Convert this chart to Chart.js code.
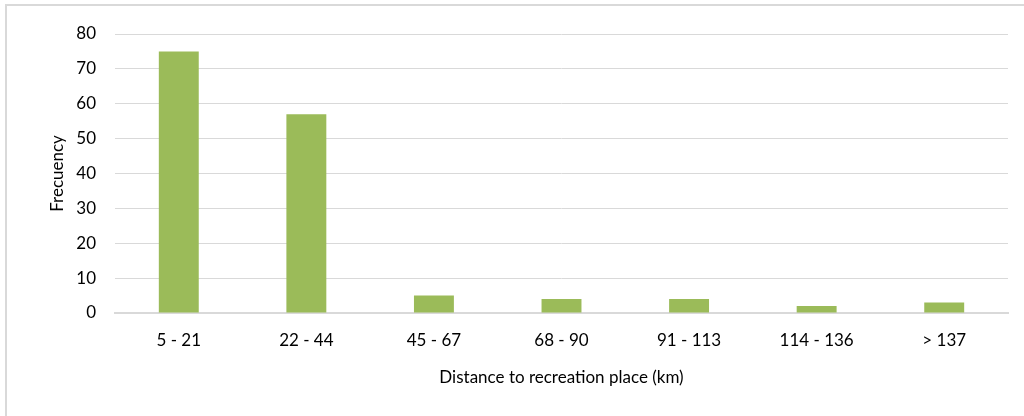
<!DOCTYPE html>
<html>
<head>
<meta charset="utf-8">
<script src="https://cdn.jsdelivr.net/npm/chart.js@4"></script>
<style>
  html, body { margin: 0; padding: 0; background: #fff; overflow: hidden; }
  #frame {
    position: absolute; left: 5px; top: 4px;
    width: 1040px; height: 440px;
    border: 2px solid #d9d9d9; box-sizing: border-box;
  }
  #wrap { position: absolute; left: 0; top: 0; width: 1024px; height: 416px; }
</style>
</head>
<body>
<div id="frame"></div>
<div id="wrap"><canvas id="c" width="1024" height="416"></canvas></div>
<script>
// Distance bands (km) and how many respondents fell in each
const categories = ['5 - 21', '22 - 44', '45 - 67', '68 - 90', '91 - 113', '114 - 136', '> 137'];
const frequency = [75, 57, 5, 4, 4, 2, 3];
const yTicks = [0, 10, 20, 30, 40, 50, 60, 70, 80];

const FONT = 'Lato, "Open Sans", sans-serif';
const TEXT = '#000';
const GRID = '#d9d9d9';

new Chart(document.getElementById('c'), {
  type: 'bar',
  data: {
    labels: categories,
    datasets: [{
      data: frequency,
      backgroundColor: '#9bbb59',
      borderWidth: 0,
      categoryPercentage: 1,
      barPercentage: 0.313
    }]
  },
  options: {
    responsive: false,
    animation: false,
    layout: { padding: { left: 47, right: 16, top: 34, bottom: 28 } },
    plugins: { legend: { display: false }, tooltip: { enabled: false } },
    scales: {
      x: {
        grid: { display: false, drawTicks: false },
        border: { display: true, color: GRID, width: 2 },
        ticks: { color: TEXT, font: { family: FONT, size: 17 }, padding: 17, maxRotation: 0 },
        title: {
          display: true, text: 'Distance to recreation place (km)',
          color: TEXT, font: { family: FONT, size: 17 }, padding: 0
        },
        afterFit(s) { s.height = 75; }
      },
      y: {
        min: 0, max: 80,
        afterBuildTicks(s) { s.ticks = yTicks.map(v => ({ value: v })); },
        grid: { color: GRID, lineWidth: 1, drawTicks: false },
        border: { display: false },
        ticks: { color: TEXT, font: { family: FONT, size: 17 }, padding: 19 },
        title: {
          display: true, text: 'Frecuency',
          color: TEXT, font: { family: FONT, size: 17 }, padding: 0
        },
        afterFit(s) { s.width = 68; }
      }
    }
  }
});
</script>
</body>
</html>
